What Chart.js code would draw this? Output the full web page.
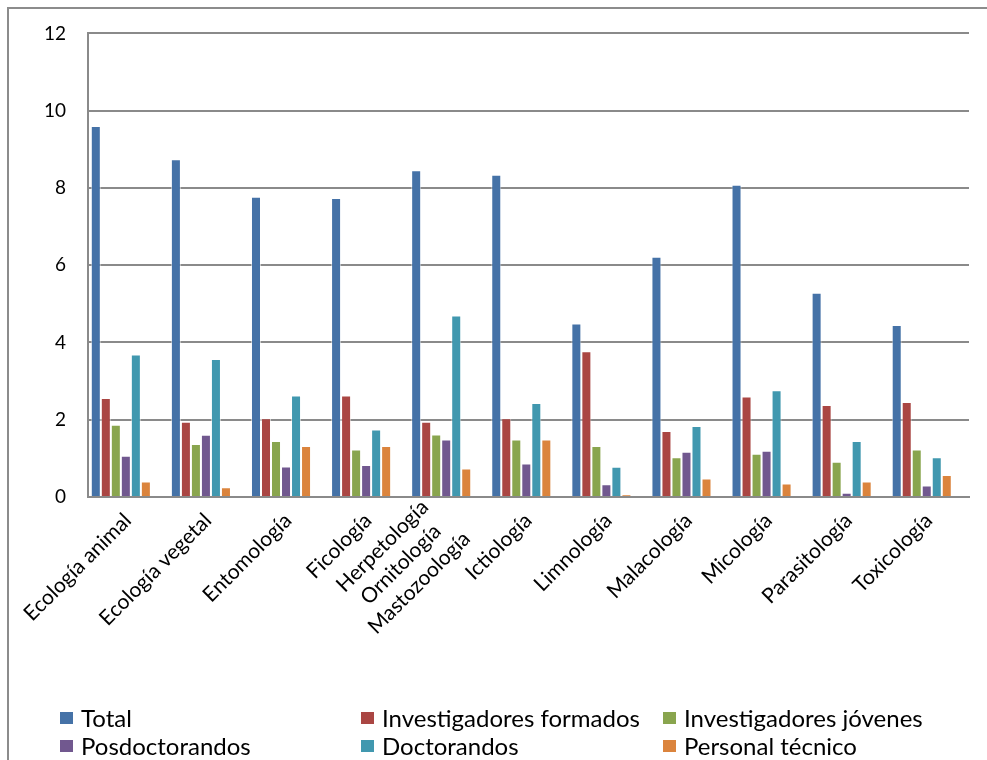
<!DOCTYPE html>
<html>
<head>
<meta charset="utf-8">
<script src="https://cdn.jsdelivr.net/npm/chart.js@4/dist/chart.umd.min.js"></script>
<style>
  html, body { margin: 0; padding: 0; background: #fff; }
  #wrap { position: relative; width: 987px; height: 760px; }
  canvas { display: block; }
</style>
</head>
<body>
<div id="wrap"><canvas id="c" width="987" height="760" style="width:987px;height:760px"></canvas></div>
<script>
// Categorías (disciplinas)
const categories = [
  "Ecología animal",
  "Ecología vegetal",
  "Entomología",
  "Ficología",
  ["Herpetología", "Ornitología", "Mastozoología"],
  "Ictiología",
  "Limnología",
  "Malacología",
  "Micología",
  "Parasitología",
  "Toxicología"
];

// Series
const total                  = [9.60, 8.74, 7.77, 7.74, 8.46, 8.34, 4.49, 6.22, 8.08, 5.29, 4.45];
const investigadoresFormados = [2.56, 1.95, 2.04, 2.63, 1.95, 2.04, 3.77, 1.71, 2.60, 2.38, 2.46];
const investigadoresJovenes  = [1.87, 1.37, 1.45, 1.23, 1.62, 1.49, 1.32, 1.03, 1.12, 0.91, 1.23];
const posdoctorandos         = [1.07, 1.61, 0.79, 0.83, 1.49, 0.87, 0.33, 1.17, 1.20, 0.11, 0.30];
const doctorandos            = [3.69, 3.57, 2.63, 1.75, 4.70, 2.43, 0.78, 1.84, 2.76, 1.45, 1.03];
const personalTecnico        = [0.40, 0.25, 1.32, 1.32, 0.74, 1.49, 0.06, 0.48, 0.35, 0.40, 0.57];

// Marcas del eje Y
const yTicks = [0, 2, 4, 6, 8, 10, 12];

const FONT = "Lato, 'Open Sans', sans-serif";

const seriesDefs = [
  { label: "Total",                    data: total,                  color: "#4572A7" },
  { label: "Investigadores formados",  data: investigadoresFormados, color: "#AA4643" },
  { label: "Investigadores jóvenes",   data: investigadoresJovenes,  color: "#89A54E" },
  { label: "Posdoctorandos",           data: posdoctorandos,         color: "#71588F" },
  { label: "Doctorandos",              data: doctorandos,            color: "#4198AF" },
  { label: "Personal técnico",         data: personalTecnico,        color: "#DB843D" }
];

// Marco exterior (bordes superior e izquierdo)
const framePlugin = {
  id: "frame",
  beforeDraw(chart) {
    const ctx = chart.ctx;
    ctx.save();
    ctx.fillStyle = "#fff";
    ctx.fillRect(0, 0, chart.width, chart.height);
    ctx.strokeStyle = "#8c8c8c";
    ctx.lineWidth = 2;
    ctx.beginPath();
    ctx.moveTo(8, chart.height);
    ctx.lineTo(8, 8);
    ctx.lineTo(chart.width, 8);
    ctx.stroke();
    ctx.restore();
  }
};

// Etiquetas del eje X a 45°, con las líneas múltiples centradas entre sí
const xLabelPlugin = {
  id: "xLabels",
  afterDraw(chart) {
    const sc = chart.scales.x;
    const ctx = chart.ctx;
    const lh = 26;
    ctx.save();
    ctx.font = "21px " + FONT;
    ctx.fillStyle = "#000";
    ctx.textBaseline = "middle";
    ctx.textAlign = "center";
    chart.data.labels.forEach((lab, i) => {
      const lines = [].concat(lab);
      const w = Math.max(...lines.map(l => ctx.measureText(l).width));
      const px = sc.getPixelForTick(i);
      ctx.save();
      ctx.translate(px + 7, sc.top + 20);
      ctx.rotate(-Math.PI / 4);
      lines.forEach((l, j) => {
        ctx.fillText(l, -w / 2, (j - (lines.length - 1) / 2) * lh);
      });
      ctx.restore();
    });
    ctx.restore();
  }
};

// Leyenda en rejilla de 3 columnas
const gridLegendPlugin = {
  id: "gridLegend",
  afterDraw(chart) {
    const ctx = chart.ctx;
    const cols = [60, 361, 663];
    const rows = [718, 746];
    ctx.save();
    ctx.font = "24px " + FONT;
    ctx.textBaseline = "middle";
    ctx.textAlign = "left";
    chart.data.datasets.forEach((ds, i) => {
      const x = cols[i % 3];
      const y = rows[Math.floor(i / 3)];
      ctx.fillStyle = ds.backgroundColor;
      ctx.fillRect(x, y - 6, 13, 12);
      ctx.fillStyle = "#000";
      ctx.fillText(ds.label, x + 21, y + 1);
    });
    ctx.restore();
  }
};

new Chart(document.getElementById("c"), {
  type: "bar",
  data: {
    labels: categories,
    datasets: seriesDefs.map(s => ({
      label: s.label,
      data: s.data,
      backgroundColor: s.color,
      borderColor: "rgba(255,255,255,0.55)",
      borderWidth: 1,
      categoryPercentage: 0.75,
      barPercentage: 1.0
    }))
  },
  options: {
    responsive: false,
    animation: false,
    devicePixelRatio: 1,
    layout: { padding: { left: 0, right: 18, top: 12, bottom: 0 } },
    plugins: {
      legend: { display: false },
      tooltip: { enabled: false }
    },
    scales: {
      x: {
        grid: { display: false, drawTicks: false },
        border: { display: true, color: "#8a8a8a", width: 2 },
        ticks: { display: false },
        // los grupos quedan algo desplazados hacia el eje Y
        afterBuildTicks(scale) { scale._startValue = -0.41; },
        afterFit(scale) { scale.height = 263; }
      },
      y: {
        min: 0,
        max: 12,
        grid: { color: "#8a8a8a", lineWidth: 2, drawTicks: false },
        border: { display: true, color: "#8a8a8a", width: 2 },
        ticks: {
          color: "#000",
          font: { family: FONT, size: 19 },
          padding: 22
        },
        afterBuildTicks(scale) { scale.ticks = yTicks.map(v => ({ value: v })); },
        afterFit(scale) { scale.width = 88; }
      }
    }
  },
  plugins: [framePlugin, xLabelPlugin, gridLegendPlugin]
});
</script>
</body>
</html>
